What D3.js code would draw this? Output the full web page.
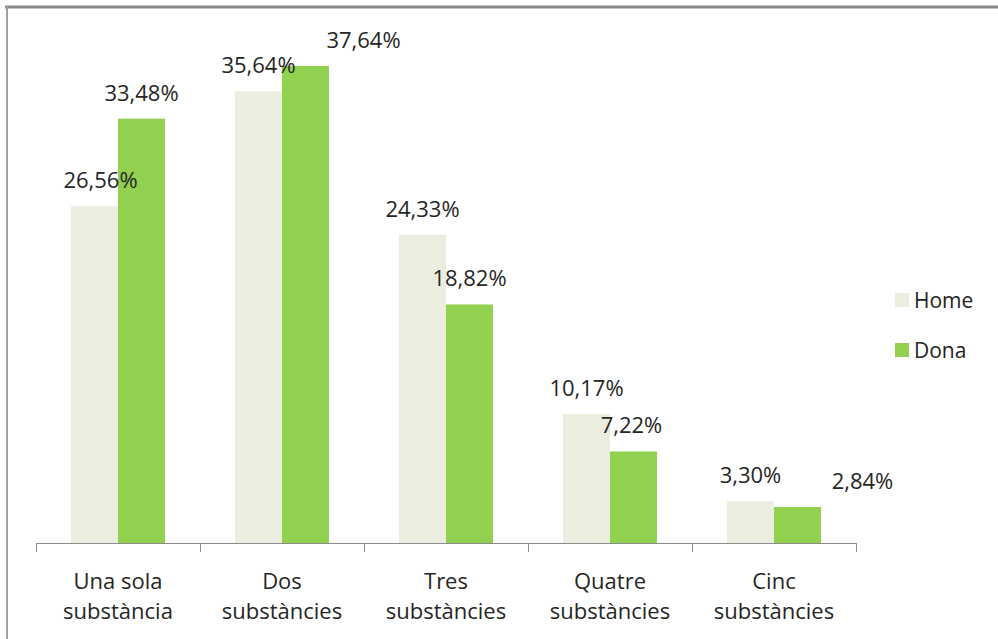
<!DOCTYPE html>
<html>
<head>
<meta charset="utf-8">
<script src="https://cdn.jsdelivr.net/npm/d3@7"></script>
<style>
  html, body { margin: 0; padding: 0; background: #fff; }
  svg { display: block; font-family: "Open Sans", "Noto Sans", sans-serif; }
</style>
</head>
<body>
<svg id="chart" width="998" height="639"></svg>
<script>
// Categories (two-line labels) and series values, in percent
const categories = ["Una sola substància", "Dos substàncies", "Tres substàncies", "Quatre substàncies", "Cinc substàncies"];
const categoryLines = [["Una sola", "substància"], ["Dos", "substàncies"], ["Tres", "substàncies"], ["Quatre", "substàncies"], ["Cinc", "substàncies"]];
const seriesNames = ["Home", "Dona"];
const homeValues = [26.56, 35.64, 24.33, 10.17, 3.30];
const donaValues = [33.48, 37.64, 18.82, 7.22, 2.84];
const seriesColors = ["#ebeedf", "#92d050"];
// horizontal nudges for value labels that sit beside their bar
const homeLabelShift = [6, 0, 0, 0, 0];
const donaLabelShift = [0, 58, 0, -2, 65];

const svg = d3.select("#chart");
const fmt = v => d3.format(".2f")(v).replace(".", ",") + "%";

// outer frame (top and left edges)
svg.append("line").attr("x1", 5).attr("x2", 998).attr("y1", 7).attr("y2", 7)
  .attr("stroke", "#8a8a8a").attr("stroke-width", 3);
svg.append("line").attr("x1", 7).attr("x2", 7).attr("y1", 6).attr("y2", 639)
  .attr("stroke", "#a0a0a0").attr("stroke-width", 2);

const plot = { left: 36, right: 856, top: 36, bottom: 543 };

const x = d3.scaleBand().domain(categories).range([plot.left, plot.right]).padding(0);
const xs = d3.scaleBand().domain(seriesNames).range([35, x.bandwidth() - 35]).padding(0);
const y = d3.scaleLinear().domain([0, 40]).range([plot.bottom, plot.top]);

const rows = categories.map((c, i) => ({
  cat: c,
  lines: categoryLines[i],
  vals: [
    { s: "Home", v: homeValues[i], shift: homeLabelShift[i], color: seriesColors[0] },
    { s: "Dona", v: donaValues[i], shift: donaLabelShift[i], color: seriesColors[1] }
  ]
}));

const groups = svg.append("g").selectAll("g").data(rows).join("g")
  .attr("transform", d => `translate(${x(d.cat)},0)`);

groups.selectAll("rect").data(d => d.vals).join("rect")
  .attr("x", d => xs(d.s))
  .attr("width", xs.bandwidth())
  .attr("y", d => y(d.v))
  .attr("height", d => y(0) - y(d.v))
  .attr("fill", d => d.color);

groups.selectAll("text.val").data(d => d.vals).join("text")
  .attr("class", "val")
  .attr("x", d => xs(d.s) + xs.bandwidth() / 2 + d.shift)
  .attr("y", d => y(d.v) - 18)
  .attr("text-anchor", "middle")
  .attr("font-size", 22)
  .attr("fill", "#262626")
  .text(d => fmt(d.v));

// category axis with tick marks at band boundaries
const axis = svg.append("g");
axis.append("line").attr("x1", plot.left).attr("x2", plot.right)
  .attr("y1", plot.bottom + 0.5).attr("y2", plot.bottom + 0.5)
  .attr("stroke", "#8c8c8c").attr("stroke-width", 1);
const tickPos = categories.map(c => x(c)).concat([x(categories[categories.length - 1]) + x.bandwidth()]);
axis.selectAll("line.tick").data(tickPos).join("line").attr("class", "tick")
  .attr("x1", d => d + 0.5).attr("x2", d => d + 0.5)
  .attr("y1", plot.bottom).attr("y2", plot.bottom + 9)
  .attr("stroke", "#8c8c8c");

const catLabels = axis.selectAll("text").data(rows).join("text")
  .attr("x", d => x(d.cat) + x.bandwidth() / 2)
  .attr("text-anchor", "middle")
  .attr("font-size", 22)
  .attr("fill", "#262626");
catLabels.selectAll("tspan").data(d => d.lines).join("tspan")
  .attr("x", function() { return d3.select(this.parentNode).attr("x"); })
  .attr("y", (d, i) => 589 + i * 30)
  .text(d => d);

// legend
const legend = svg.append("g").selectAll("g").data(seriesNames).join("g")
  .attr("transform", (d, i) => `translate(895,${293 + i * 50})`);
legend.append("rect").attr("width", 14).attr("height", 14)
  .attr("fill", (d, i) => seriesColors[i]);
legend.append("text").attr("x", 19).attr("y", 15)
  .attr("font-size", 21).attr("fill", "#222").text(d => d);
</script>
</body>
</html>
